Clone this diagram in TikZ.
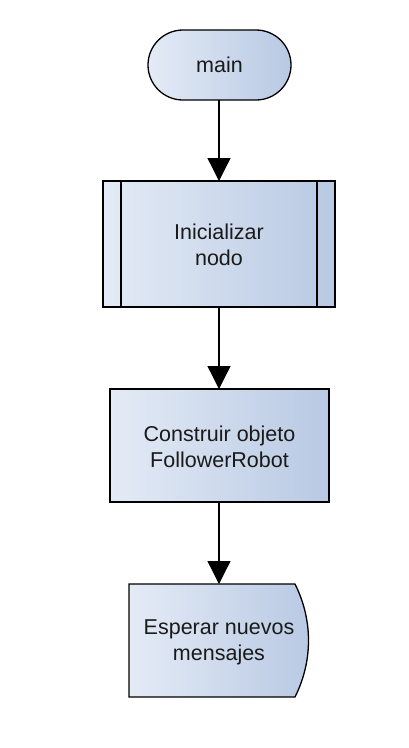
\documentclass[tikz,border=0pt]{standalone}
\usepackage{fontspec}
\setmainfont{Liberation Sans}
\usetikzlibrary{arrows.meta}
\definecolor{lightfill}{HTML}{E4EBF6}
\definecolor{darkfill}{HTML}{B8C9E3}
\definecolor{txt}{HTML}{1A1A1A}
\begin{document}
\begin{tikzpicture}[x=1pt,y=-1pt,
  boxstyle/.style={draw=black, line width=1.3pt, left color=lightfill, right color=darkfill},
  lbl/.style={font=\fontsize{21.5}{26}\selectfont, text=txt, align=center},
  flow/.style={line width=1.3pt, -{Triangle[length=23pt,width=23pt]}}]
\useasboundingbox (0,0) rectangle (408,748);
\fill[white] (0,0) rectangle (408,748);
% main terminal
\path[boxstyle, rounded corners=35pt] (148,30) rectangle (291,100);
\node[lbl] (main) at (219.5,65) {main};
% Inicializar nodo (predefined process)
\path[boxstyle] (103,181) rectangle (335,307);
\draw[line width=1.3pt] (121,181) -- (121,307) (317,181) -- (317,307);
\node[lbl] (init) at (219,245) {Inicializar\\nodo};
% Construir objeto
\path[boxstyle] (110,389) rectangle (329,502);
\node[lbl] (cons) at (219.5,447) {Construir objeto\\FollowerRobot};
% Esperar (delay)
\path[boxstyle] (129,584) -- (295,584) .. controls (313,620) and (313,661) .. (295,697) -- (129,697) -- cycle;
\node[lbl] (wait) at (219,642) {Esperar nuevos\\mensajes};
% anchors on box edges
\coordinate (mainb) at (219,100);
\coordinate (initt) at (219,181);
\coordinate (initb) at (219,307);
\coordinate (const) at (219,389);
\coordinate (consb) at (219,502);
\coordinate (waitt) at (219,584);
\draw[flow] (mainb) -- (initt);
\draw[flow] (initb) -- (const);
\draw[flow] (consb) -- (waitt);
\end{tikzpicture}
\end{document}
